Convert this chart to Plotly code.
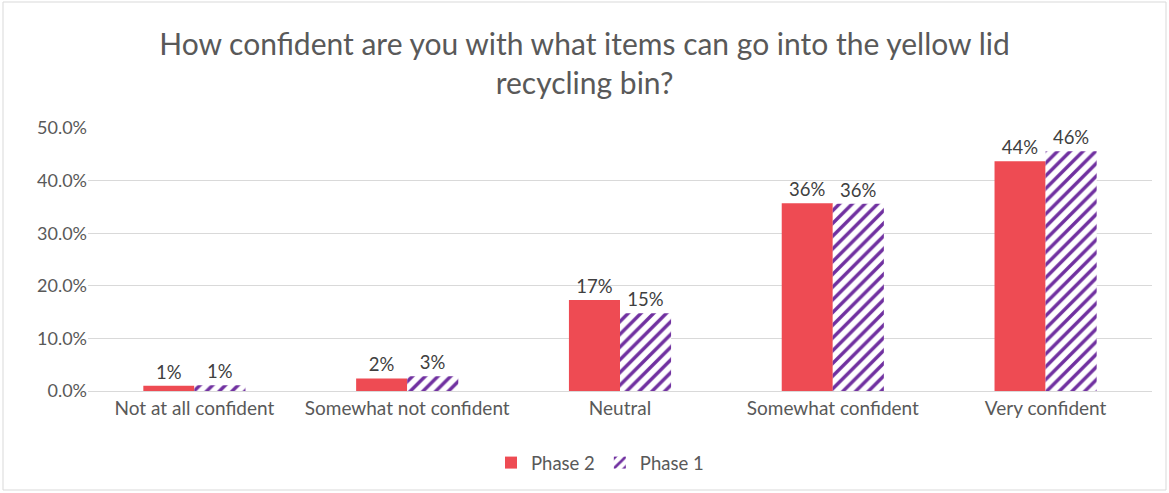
import plotly.graph_objects as go

categories = ["Not at all confident", "Somewhat not confident", "Neutral",
              "Somewhat confident", "Very confident"]
phase2 = [0.010, 0.024, 0.173, 0.357, 0.437]
phase1 = [0.011, 0.028, 0.148, 0.356, 0.456]
y_ticks = [0, 0.1, 0.2, 0.3, 0.4, 0.5]

RED = "#EE4B53"
PURPLE = "#7030A0"
FONT = "Lato"
GRAY = "#595959"

fig = go.Figure()
fig.add_trace(go.Bar(
    name="Phase 2", x=categories, y=phase2,
    marker=dict(color=RED, line=dict(width=0)),
    texttemplate="%{y:.0%}", textposition="outside",
    textfont=dict(family=FONT, size=18.5, color="#404040"),
    cliponaxis=False,
))
fig.add_trace(go.Bar(
    name="Phase 1", x=categories, y=phase1,
    marker=dict(color="white", line=dict(width=0),
                pattern=dict(shape="/", fgcolor=PURPLE, bgcolor="white",
                             size=9, solidity=0.38, fillmode="replace")),
    texttemplate="%{y:.0%}", textposition="outside",
    textfont=dict(family=FONT, size=18.5, color="#404040"),
    cliponaxis=False,
))

L, R, T, B = 88, 17, 128, 102
W, H = 1169, 493
pw, ph = W - L - R, H - T - B

fig.update_layout(
    width=W, height=H,
    margin=dict(l=L, r=R, t=T, b=B, autoexpand=False),
    paper_bgcolor="white", plot_bgcolor="white",
    barmode="group", bargap=0.52, bargroupgap=0,
    font=dict(family=FONT, color=GRAY),
    title=dict(text="How confident are you with what items can go into the yellow lid<br>recycling bin?",
               x=0.5, xanchor="center", y=0.888, yanchor="middle",
               font=dict(family=FONT, size=30, color=GRAY)),
    showlegend=True,
    legend=dict(orientation="h", x=(600 - L) / pw, xanchor="center", y=-0.274, yanchor="middle",
                font=dict(family=FONT, size=18.5, color=GRAY),
                itemwidth=30, traceorder="normal"),
    xaxis=dict(showgrid=False, showline=True, linecolor="#D9D9D9", linewidth=1,
               ticks="", automargin=False,
               tickfont=dict(family=FONT, size=19, color=GRAY)),
    yaxis=dict(range=[0, 0.5], tickvals=y_ticks, tickformat=".1%",
               showgrid=True, gridcolor="#D9D9D9", gridwidth=1,
               zeroline=False, showline=False, automargin=False,
               tickfont=dict(family=FONT, size=18, color=GRAY)),
    shapes=[dict(type="rect", xref="paper", yref="paper",
                 x0=(3 - L) / pw, x1=(W - 3 - L) / pw,
                 y0=-(B - 3) / ph, y1=(T - 2 + ph) / ph,
                 line=dict(color="#D9D9D9", width=1), fillcolor="rgba(0,0,0,0)")],
)

fig.write_html("out.html", config={"displayModeBar": False},
               post_script="document.body.style.margin='0';document.body.style.overflow='hidden';")
